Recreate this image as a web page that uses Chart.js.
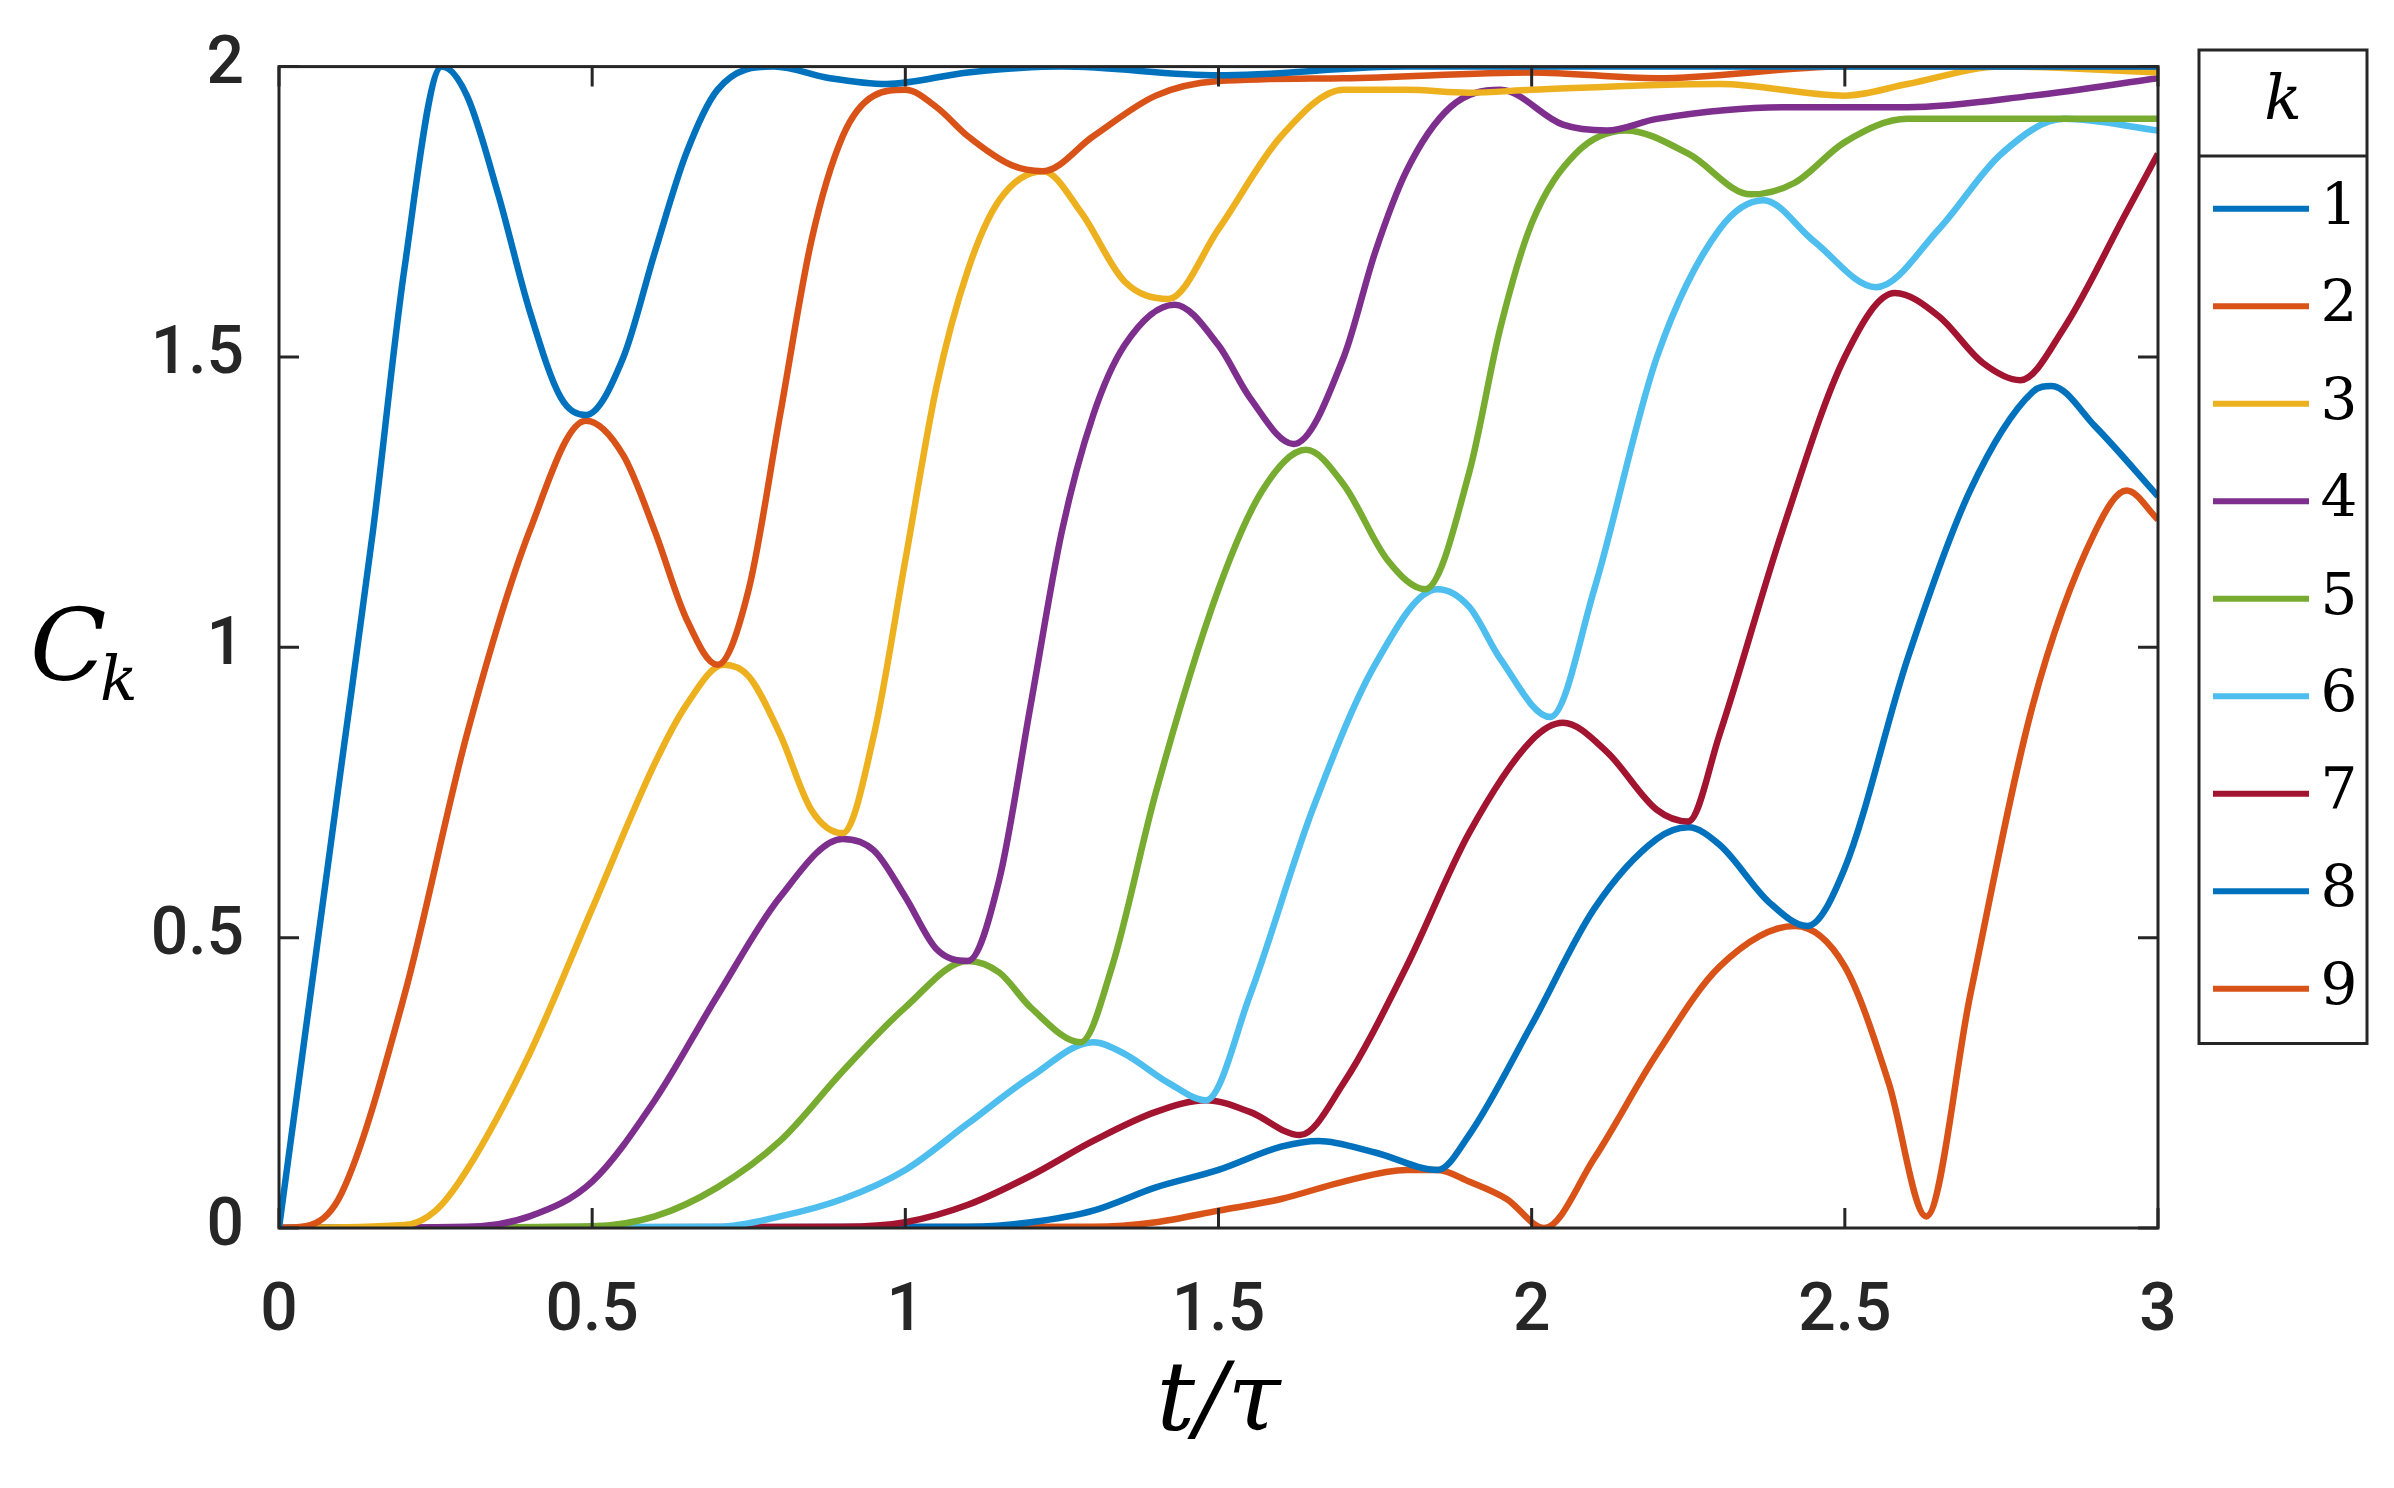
<!DOCTYPE html>
<html><head><meta charset="utf-8">
<script src="https://cdn.jsdelivr.net/npm/chart.js@4"></script>
<style>html,body{margin:0;padding:0;background:#fff}</style>
</head><body>
<canvas id="c" width="2394" height="1488"></canvas>
<script>
const labels = ['1','2','3','4','5','6','7','8','9'];
const colors = ['#0072BD','#D95319','#EDB120','#7E2F8E','#77AC30','#4DBEEE','#A2142F','#0072BD','#D95319'];
const xTicks = [0,0.5,1,1.5,2,2.5,3];
const yTicks = [0,0.5,1,1.5,2];
const c1 = [[0,0],[0.05,0.4],[0.1,0.8],[0.15,1.2],[0.2,1.65],[0.26,2.0],[0.3,1.95],[0.35,1.78],[0.4,1.58],[0.45,1.43],[0.49,1.4],[0.55,1.5],[0.6,1.68],[0.65,1.85],[0.7,1.96],[0.79,2.0],[0.88,1.98],[0.97,1.97],[1.1,1.99],[1.25,2.0],[1.5,1.985],[1.8,2.0],[3,2.0]];
const c2 = [[0,0],[0.05,0.005],[0.1,0.06],[0.2,0.4],[0.3,0.85],[0.4,1.2],[0.49,1.39],[0.55,1.33],[0.6,1.2],[0.65,1.05],[0.7,0.97],[0.75,1.1],[0.8,1.4],[0.85,1.7],[0.9,1.88],[0.95,1.95],[1.0,1.96],[1.05,1.93],[1.1,1.88],[1.17,1.83],[1.22,1.82],[1.3,1.88],[1.4,1.95],[1.5,1.975],[1.7,1.98],[2.0,1.99],[2.2,1.98],[2.5,2.0],[3,2.0]];
const c3 = [[0,0],[0.2,0.005],[0.25,0.03],[0.3,0.1],[0.4,0.3],[0.5,0.55],[0.6,0.8],[0.65,0.9],[0.71,0.97],[0.75,0.95],[0.8,0.85],[0.85,0.72],[0.9,0.68],[0.95,0.85],[1.0,1.15],[1.05,1.45],[1.1,1.65],[1.15,1.77],[1.22,1.82],[1.28,1.75],[1.35,1.63],[1.42,1.6],[1.5,1.72],[1.6,1.88],[1.7,1.96],[1.8,1.96],[1.9,1.955],[2.0,1.96],[2.3,1.97],[2.5,1.95],[2.6,1.97],[2.75,2.0],[3,1.99]];
const c4 = [[0,0],[0.3,0.002],[0.4,0.02],[0.5,0.08],[0.6,0.22],[0.7,0.4],[0.8,0.57],[0.9,0.67],[0.95,0.65],[1.0,0.57],[1.05,0.48],[1.1,0.46],[1.15,0.6],[1.2,0.9],[1.25,1.2],[1.3,1.4],[1.35,1.52],[1.43,1.59],[1.5,1.52],[1.55,1.43],[1.62,1.35],[1.7,1.5],[1.75,1.68],[1.8,1.82],[1.87,1.93],[1.95,1.96],[2.05,1.9],[2.12,1.89],[2.2,1.91],[2.4,1.93],[2.6,1.93],[2.8,1.95],[3,1.98]];
const c5 = [[0,0],[0.5,0.003],[0.6,0.02],[0.7,0.07],[0.8,0.15],[0.9,0.27],[1.0,0.38],[1.1,0.46],[1.15,0.44],[1.2,0.38],[1.28,0.32],[1.33,0.45],[1.4,0.75],[1.5,1.1],[1.57,1.27],[1.64,1.34],[1.7,1.28],[1.77,1.15],[1.83,1.1],[1.9,1.3],[1.95,1.55],[2.0,1.73],[2.07,1.85],[2.15,1.89],[2.25,1.85],[2.35,1.78],[2.42,1.8],[2.5,1.87],[2.6,1.91],[3,1.91]];
const c6 = [[0,0],[0.7,0.002],[0.8,0.02],[0.9,0.05],[1.0,0.1],[1.1,0.18],[1.2,0.26],[1.3,0.32],[1.35,0.3],[1.42,0.25],[1.48,0.22],[1.55,0.4],[1.65,0.72],[1.75,0.97],[1.85,1.1],[1.9,1.07],[1.95,0.98],[2.03,0.88],[2.1,1.1],[2.2,1.5],[2.3,1.72],[2.37,1.77],[2.45,1.7],[2.55,1.62],[2.65,1.72],[2.75,1.85],[2.85,1.91],[3,1.89]];
const c7 = [[0,0],[0.9,0.002],[1.0,0.01],[1.1,0.04],[1.2,0.09],[1.3,0.15],[1.4,0.2],[1.48,0.22],[1.55,0.2],[1.63,0.16],[1.7,0.25],[1.8,0.45],[1.9,0.68],[2.0,0.84],[2.05,0.87],[2.12,0.82],[2.2,0.72],[2.25,0.7],[2.3,0.85],[2.4,1.2],[2.5,1.5],[2.58,1.61],[2.65,1.57],[2.72,1.49],[2.78,1.46],[2.85,1.55],[2.95,1.75],[3,1.85]];
const c8 = [[0,0],[1.1,0.002],[1.2,0.01],[1.3,0.03],[1.4,0.07],[1.5,0.1],[1.6,0.14],[1.66,0.15],[1.75,0.13],[1.85,0.1],[1.9,0.16],[2.0,0.35],[2.1,0.55],[2.2,0.67],[2.25,0.69],[2.3,0.66],[2.38,0.56],[2.44,0.52],[2.5,0.62],[2.6,0.98],[2.7,1.27],[2.8,1.44],[2.83,1.45],[2.9,1.38],[3,1.26]];
const c9 = [[0,0],[1.3,0.002],[1.4,0.01],[1.5,0.03],[1.6,0.05],[1.7,0.08],[1.8,0.1],[1.85,0.1],[1.9,0.08],[1.96,0.05],[2.02,0.0],[2.1,0.12],[2.2,0.3],[2.3,0.45],[2.42,0.52],[2.5,0.45],[2.57,0.25],[2.63,0.02],[2.7,0.4],[2.8,0.9],[2.9,1.2],[2.95,1.27],[3,1.22]];
const series = [c1,c2,c3,c4,c5,c6,c7,c8,c9];

const L=279,R=2158,T=35,B=1228;
const deco = {
  id:'deco',
  afterDraw(ch){
    const ctx=ch.ctx, a=ch.chartArea, xs=ch.scales.x, ys=ch.scales.y;
    ctx.save();
    ctx.strokeStyle='#262626'; ctx.lineWidth=3;
    ctx.strokeRect(a.left,a.top,a.right-a.left,a.bottom-a.top);
    const tl=20;
    ctx.beginPath();
    xTicks.forEach(v=>{const p=xs.getPixelForValue(v);ctx.moveTo(p,a.bottom);ctx.lineTo(p,a.bottom-tl);ctx.moveTo(p,a.top);ctx.lineTo(p,a.top+tl);});
    yTicks.forEach(v=>{const p=ys.getPixelForValue(v);ctx.moveTo(a.left,p);ctx.lineTo(a.left+tl,p);ctx.moveTo(a.right,p);ctx.lineTo(a.right-tl,p);});
    ctx.stroke();
    ctx.fillStyle='#000';
    ctx.font='italic 96px "DejaVu Serif", serif';
    ctx.textAlign='center'; ctx.textBaseline='alphabetic';
    ctx.fillText('t/τ',(a.left+a.right)/2,1430);
    ctx.font='italic 100px "DejaVu Serif", serif';
    ctx.textAlign='left';
    ctx.fillText('C',30,680);
    ctx.font='italic 62px "DejaVu Serif", serif';
    ctx.fillText('k',100,700);
    const lx=2199,ly=50,lw=168,hh=106,rh=97.5;
    ctx.fillStyle='#fff';
    ctx.fillRect(lx,ly,lw,hh+rh*9+10);
    ctx.strokeStyle='#262626';ctx.lineWidth=3;
    ctx.strokeRect(lx,ly,lw,hh+rh*9+10);
    ctx.beginPath();ctx.moveTo(lx,ly+hh);ctx.lineTo(lx+lw,ly+hh);ctx.stroke();
    ctx.fillStyle='#000';ctx.textAlign='center';ctx.textBaseline='middle';
    ctx.font='italic 62px "DejaVu Serif", serif';
    ctx.fillText('k',lx+lw/2,ly+hh/2);
    ctx.font='58px "DejaVu Serif", serif';
    labels.forEach((t,i)=>{
      const y=ly+hh+rh*(i+0.5)+4;
      ctx.strokeStyle=colors[i];ctx.lineWidth=6;
      ctx.beginPath();ctx.moveTo(lx+14,y);ctx.lineTo(lx+110,y);ctx.stroke();
      ctx.fillStyle='#000';ctx.fillText(t,lx+140,y);
    });
    ctx.restore();
  }
};
new Chart(document.getElementById('c'),{
  type:'line',
  data:{datasets:series.map((s,i)=>({label:labels[i],data:s.map(p=>({x:p[0],y:p[1]})),borderColor:colors[i],borderWidth:6.5,pointRadius:0,fill:false,cubicInterpolationMode:'monotone'}))},
  options:{
    responsive:false,animation:false,
    layout:{padding:{top:T,right:2394-R,left:0,bottom:0}},
    plugins:{legend:{display:false},tooltip:{enabled:false}},
    scales:{
      x:{type:'linear',min:0,max:3,afterFit(s){s.height=1488-B;},
        afterBuildTicks(s){s.ticks=xTicks.map(v=>({value:v}));},
        grid:{display:false},border:{display:false},
        ticks:{padding:38,color:'#262626',font:{family:'Roboto, Arial, sans-serif',size:66,weight:'500'},maxRotation:0,callback:v=>String(v)}},
      y:{min:0,max:2,afterFit(s){s.width=L;},
        afterBuildTicks(s){s.ticks=yTicks.map(v=>({value:v}));},
        grid:{display:false},border:{display:false},
        ticks:{padding:27,color:'#262626',font:{family:'Roboto, Arial, sans-serif',size:66,weight:'500'},callback:v=>String(v)}}
    }
  },
  plugins:[deco]
});
</script>
</body></html>
